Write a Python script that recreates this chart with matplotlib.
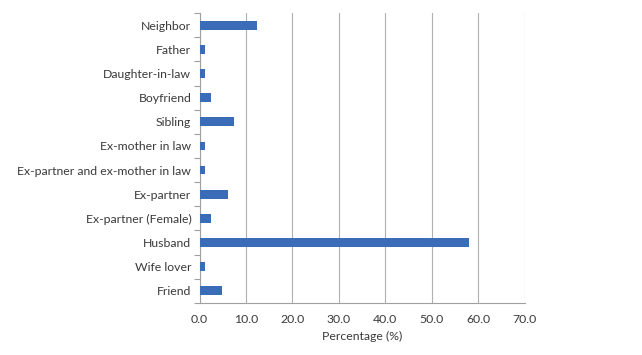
import matplotlib.pyplot as plt
import numpy as np

plt.rcParams['font.family'] = ['Lato', 'DejaVu Sans']

# categories from top to bottom, as in the chart
categories = ['Neighbor', 'Father', 'Daughter-in-law', 'Boyfriend', 'Sibling',
              'Ex-mother in law', 'Ex-partner and ex-mother in law', 'Ex-partner',
              'Ex-partner (Female)', 'Husband', 'Wife lover', 'Friend']
percentages = [12.3, 1.2, 1.2, 2.5, 7.4, 1.2, 1.2, 6.2, 2.5, 58.0, 1.2, 4.9]
x_ticks = [0, 10, 20, 30, 40, 50, 60, 70]

fig = plt.figure(figsize=(6.42, 3.55), dpi=100)
ax = fig.add_axes([0.311, 0.147, 0.506, 0.816])

y = np.arange(len(categories))[::-1]
ax.barh(y, percentages, height=0.36, color='#3a6cb8', zorder=3)

ax.set_xlim(0, 70)
ax.set_ylim(-0.5, len(categories) - 0.5)
ax.set_xticks(x_ticks)
ax.set_xticklabels([f'{v:.1f}' for v in x_ticks], fontsize=8.8, color='#3a3a3a')
ax.set_yticks(y)
ax.set_yticklabels(categories, fontsize=8.8, color='#3a3a3a')
ax.tick_params(axis='y', length=0, pad=6)
ax.tick_params(axis='x', length=0, pad=8)

# Excel-style minor ticks between categories
ax.set_yticks(np.arange(-0.5, len(categories), 1.0), minor=True)
ax.tick_params(axis='y', which='minor', length=4, color='#a0a0a0', width=0.8)

ax.grid(axis='x', color='#b0b0b0', linewidth=0.8, zorder=0)
for s in ['top', 'right']:
    ax.spines[s].set_visible(False)
for s in ['left', 'bottom']:
    ax.spines[s].set_color('#a0a0a0')
    ax.spines[s].set_linewidth(0.8)

ax.set_xlabel('Percentage (%)', fontsize=8.8, color='#3a3a3a', labelpad=4)

fig.savefig('out.png', dpi=100)
